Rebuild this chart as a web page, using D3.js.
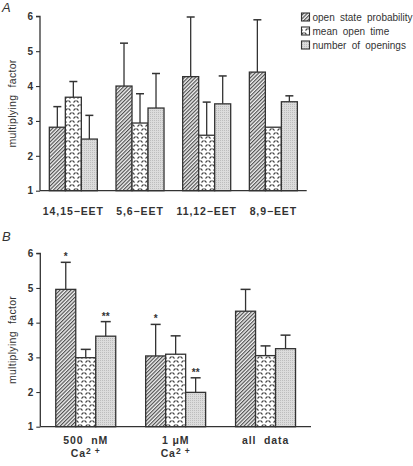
<!DOCTYPE html>
<html><head><meta charset="utf-8">
<script src="https://cdn.jsdelivr.net/npm/d3@7"></script>
<style>
body{margin:0;background:#fff;}
svg{display:block;font-family:"Liberation Sans",Arial,sans-serif;}
text{white-space:pre;}
</style></head>
<body><svg id="c" width="413" height="466"></svg>
<script>
// ---- data ----
const seriesNames = ["open state probability","mean open time","number of openings"];
const groupsA = ["14,15\u2212EET","5,6\u2212EET","11,12\u2212EET","8,9\u2212EET"];
const openProbA = [2.82, 4.00, 4.27, 4.40];
const openProbErrA = [0.59, 1.23, 1.71, 1.50];
const meanOpenA = [3.68, 2.94, 2.59, 2.82];
const meanOpenErrA = [0.45, 0.84, 0.95, 0];
const numOpenA = [2.48, 3.37, 3.49, 3.55];
const numOpenErrA = [0.68, 0.99, 0.80, 0.17];

const groupsB = [["500  nM","Ca"],["1 \u03bcM","Ca"],["all  data",""]];
const openProbB = [4.96, 3.04, 4.33];
const openProbErrB = [0.78, 0.91, 0.63];
const meanOpenB = [2.99, 3.09, 3.05];
const meanOpenErrB = [0.24, 0.53, 0.28];
const numOpenB = [3.61, 1.99, 3.25];
const numOpenErrB = [0.42, 0.42, 0.39];
const sigOpenProbB = ["*","*",""];
const sigNumOpenB = ["**","**",""];

const yTicks = [1,2,3,4,5,6];

// ---- drawing ----
const svg = d3.select("#c");
const ink = "#333";
const defs = svg.append("defs");
// hatch
const ph = defs.append("pattern").attr("id","hatch").attr("patternUnits","userSpaceOnUse")
  .attr("width",2.6).attr("height",2.6).attr("patternTransform","rotate(45)");
ph.append("rect").attr("width",2.6).attr("height",2.6).attr("fill","#f2f2f2");
ph.append("line").attr("x1",0.6).attr("y1",0).attr("x2",0.6).attr("y2",2.6).attr("stroke","#444").attr("stroke-width",1.1);
// dashes
const pd = defs.append("pattern").attr("id","dash").attr("patternUnits","userSpaceOnUse")
  .attr("width",8).attr("height",8);
pd.append("rect").attr("width",8).attr("height",8).attr("fill","#fff");
[[0.5,0.5,2.5,2.5],[5.5,2.5,7.5,0.5],[4.5,4.5,6.5,6.5],[1.5,6.5,3.5,4.5]].forEach(d=>{
  pd.append("line").attr("x1",d[0]).attr("y1",d[1]).attr("x2",d[2]).attr("y2",d[3])
    .attr("stroke","#444").attr("stroke-width",1.1);
});
// stipple
const ps = defs.append("pattern").attr("id","stip").attr("patternUnits","userSpaceOnUse")
  .attr("width",2).attr("height",2);
ps.append("rect").attr("width",2).attr("height",2).attr("fill","#dcdcdc");
ps.append("rect").attr("width",1).attr("height",1).attr("fill","#bdbdbd");
const fills = ["url(#hatch)","url(#dash)","url(#stip)"];

function panel(opt){
  const g = svg.append("g");
  const y = d3.scaleLinear().domain([1,6]).range(opt.yr);
  const x0 = d3.scaleBand().domain(d3.range(opt.n)).range(opt.xr)
    .paddingInner(opt.pin).paddingOuter(opt.pout);
  const x1 = d3.scaleBand().domain([0,1,2]).range([0,x0.bandwidth()]);
  opt.series.forEach((s,si)=>{
    s.v.forEach((v,i)=>{
      const bx = x0(i)+x1(si), bw = x1.bandwidth();
      const e = s.e[i];
      if(e>0){
        const cx = bx+bw/2;
        g.append("line").attr("x1",cx).attr("x2",cx).attr("y1",y(v)).attr("y2",y(v+e))
          .attr("stroke",ink).attr("stroke-width",1.3);
        g.append("line").attr("x1",cx-opt.cap/2).attr("x2",cx+opt.cap/2).attr("y1",y(v+e)).attr("y2",y(v+e))
          .attr("stroke",ink).attr("stroke-width",1.5);
        if(s.sig && s.sig[i]){
          g.append("text").attr("x",cx).attr("y",y(v+e)-2).attr("text-anchor","middle")
            .attr("font-size",10).attr("font-weight","bold").attr("fill",ink).text(s.sig[i]);
        }
      }
      g.append("rect").attr("x",bx).attr("y",y(v)).attr("width",bw).attr("height",y(1)-y(v))
        .attr("fill",fills[si]).attr("stroke",ink).attr("stroke-width",1.3);
    });
  });
  const ya = g.append("g").attr("transform",`translate(${opt.xr[0]},0)`)
    .call(d3.axisLeft(y).tickValues(yTicks).tickFormat(d3.format("d")).tickSize(4).tickSizeOuter(4).tickPadding(3));
  ya.select(".domain").attr("stroke",ink).attr("stroke-width",1.3).attr("d",`M-4,${y(6)}H0V${y(1)}`);
  ya.selectAll(".tick line").attr("stroke",ink).attr("stroke-width",1.1);
  ya.selectAll(".tick text").attr("font-size",10).attr("font-weight","bold").attr("fill",ink)
    .attr("font-family","Liberation Sans, Arial, sans-serif");
  g.append("line").attr("x1",opt.xr[0]).attr("x2",opt.xr[1]).attr("y1",y(1)).attr("y2",y(1))
    .attr("stroke",ink).attr("stroke-width",1.3);
  const ym = (opt.yr[0]+opt.yr[1])/2;
  g.append("text").attr("transform",`translate(16,${ym}) rotate(-90)`).attr("text-anchor","middle")
    .attr("font-size",10.5).attr("word-spacing",4).attr("letter-spacing",0.3).attr("fill",ink).text("multiplying factor");
  g.append("text").attr("x",2).attr("y",opt.letterY).attr("font-size",13).attr("font-style","italic")
    .attr("fill",ink).text(opt.letter);
  return {g,x0,y};
}

const A = panel({letter:"A",letterY:12,n:4,yr:[190.7,16.3],xr:[40,306.7],pin:0.28,pout:0.14,cap:8,
  series:[{v:openProbA,e:openProbErrA},{v:meanOpenA,e:meanOpenErrA},{v:numOpenA,e:numOpenErrA}]});
groupsA.forEach((t,i)=>{
  A.g.append("text").attr("x",A.x0(i)+A.x0.bandwidth()/2).attr("y",215).attr("text-anchor","middle")
    .attr("font-size",10.5).attr("font-weight","bold").attr("letter-spacing",0.9).attr("fill",ink).text(t);
});
seriesNames.forEach((s,i)=>{
  const ly = 17.5+i*14;
  A.g.append("rect").attr("x",301.5).attr("y",ly-4.5).attr("width",8).attr("height",8)
    .attr("fill",fills[i]).attr("stroke",ink).attr("stroke-width",1.1);
  A.g.append("text").attr("x",312.5).attr("y",ly+3.5).attr("font-size",10).attr("word-spacing",2.5)
    .attr("fill",ink).text(s);
});

const B = panel({letter:"B",letterY:241,n:3,yr:[426.7,253.3],xr:[40.3,311],pin:0.333,pout:0.172,cap:10,
  series:[{v:openProbB,e:openProbErrB,sig:sigOpenProbB},{v:meanOpenB,e:meanOpenErrB},{v:numOpenB,e:numOpenErrB,sig:sigNumOpenB}]});
groupsB.forEach((t,i)=>{
  const cx = B.x0(i)+B.x0.bandwidth()/2;
  B.g.append("text").attr("x",cx).attr("y",444).attr("text-anchor","middle")
    .attr("font-size",10.5).attr("font-weight","bold").attr("letter-spacing",0.9).attr("fill",ink).text(t[0]);
  if(t[1]){
    const tx = B.g.append("text").attr("x",cx).attr("y",457).attr("text-anchor","middle")
      .attr("font-size",10.5).attr("font-weight","bold").attr("letter-spacing",0.9).attr("fill",ink);
    tx.append("tspan").text(t[1]);
    tx.append("tspan").attr("font-size",8.5).attr("dy",-3).text("2 +");
  }
});
</script></body></html>
